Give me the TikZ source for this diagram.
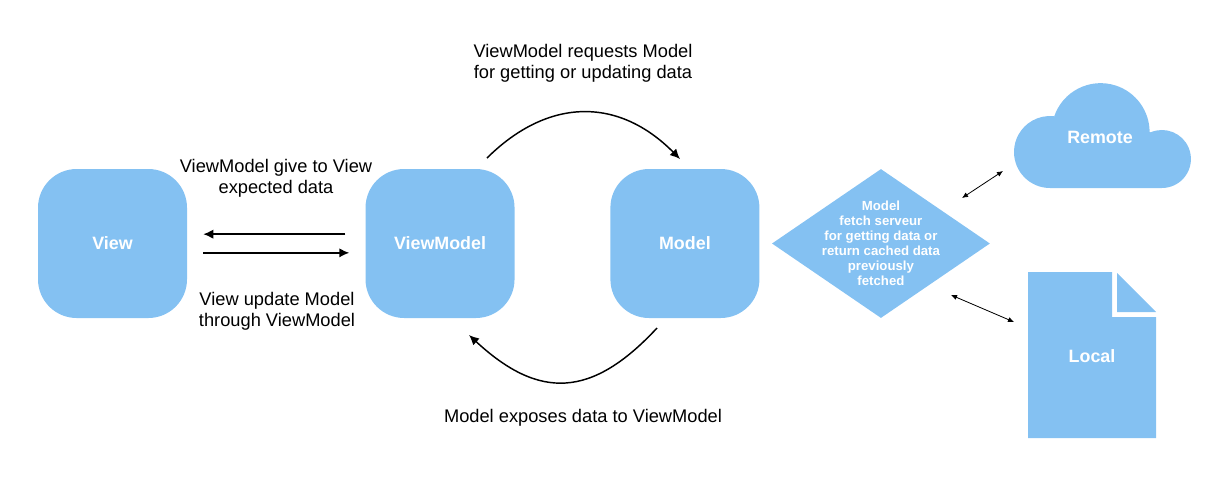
\documentclass[tikz,border=0pt]{standalone}
\usepackage{fontspec}
\setmainfont{Liberation Sans}
\usetikzlibrary{arrows.meta, positioning, shapes.geometric, calc}
\definecolor{boxblue}{RGB}{132,193,242}

\begin{document}
\begin{tikzpicture}[
            x=0.75pt, y=-0.75pt,
            box/.style={rectangle, fill=boxblue, rounded corners=29pt, minimum width=111.75pt, minimum height=111.75pt, inner sep=0pt, text=white, font=\fontsize{13.4}{16}\selectfont\bfseries},
            shapelabel/.style={text=white, font=\fontsize{13.4}{16}\selectfont\bfseries},
            caption/.style={align=center, font=\fontsize{13.7}{15.7}\selectfont},
            arrow/.style={-{Latex[length=7.5pt, width=7pt]}, line width=1.1pt},
            thinarrow/.style={{Latex[length=4.5pt, width=4pt]}-{Latex[length=4.5pt, width=4pt]}, line width=0.6pt}
        ]
            \useasboundingbox (0,0) rectangle (1227,476);

            \node[box] (view) at (112.5,243.5) {View};
            \node[box, right=133.5pt of view] (viewmodel) {ViewModel};
            \node[box, right=71.5pt of viewmodel] (model) {Model};
            \node[diamond, fill=boxblue, minimum width=163.5pt, minimum height=111.75pt, inner sep=0pt, right=9pt of model,
                label={[align=center, text=white, font=\fontsize{9.9}{11.25}\selectfont\bfseries]center:Model\\fetch serveur\\for getting data or\\return cached data\\previously\\fetched}] (fetch) {};

            % cloud
            \fill[boxblue] (1050,188) arc[start angle=90, end angle=276, radius=36]
                -- (1054,117) arc[start angle=198, end angle=360, radius=49]
                -- (1150.6,132.3) arc[start angle=247, end angle=450, radius=29] -- cycle;
            \node[shapelabel] (remote) at (1100,137) {Remote};

            % file
            \fill[boxblue] (1028,272) -- (1112,272) -- (1112,317) -- (1156,317) -- (1156,438) -- (1028,438) -- cycle;
            \fill[boxblue] (1117,273) -- (1156,312) -- (1117,312) -- cycle;
            \node[shapelabel] (local) at (1092,356) {Local};

            \node[caption] (requests) at (583,63) {ViewModel requests Model\\for getting or updating data};
            \node[caption] (gives) at (276,178.5) {ViewModel give to View\\expected data};
            \node[caption] (updates) at (277,311) {View update Model\\through ViewModel};
            \node[caption] (exposes) at (583,418) {Model exposes data to ViewModel};

            \coordinate (reqstart) at (487,158);
            \coordinate (reqend) at (680,159);
            \coordinate (expstart) at (657,328);
            \coordinate (expend) at (469,335);
            \coordinate (remoteend) at (1003,171);
            \coordinate (fetchtop) at (962,198);
            \coordinate (fetchlow) at (951,295);
            \coordinate (localend) at (1014,322);

            \draw[arrow, shorten <=15pt, shorten >=12pt] ([yshift=7pt]viewmodel.west) -- ([yshift=7pt]view.east);
            \draw[arrow, shorten <=12pt, shorten >=12pt] ([yshift=-7pt]view.east) -- ([yshift=-7pt]viewmodel.west);
            \draw[arrow, bend left=45, looseness=1.15] (reqstart) to (reqend);
            \draw[arrow, bend left=45, looseness=1.3] (expstart) to (expend);
            \draw[thinarrow] (fetchtop) -- (remoteend);
            \draw[thinarrow] (fetchlow) -- (localend);
        \end{tikzpicture}
\end{document}
